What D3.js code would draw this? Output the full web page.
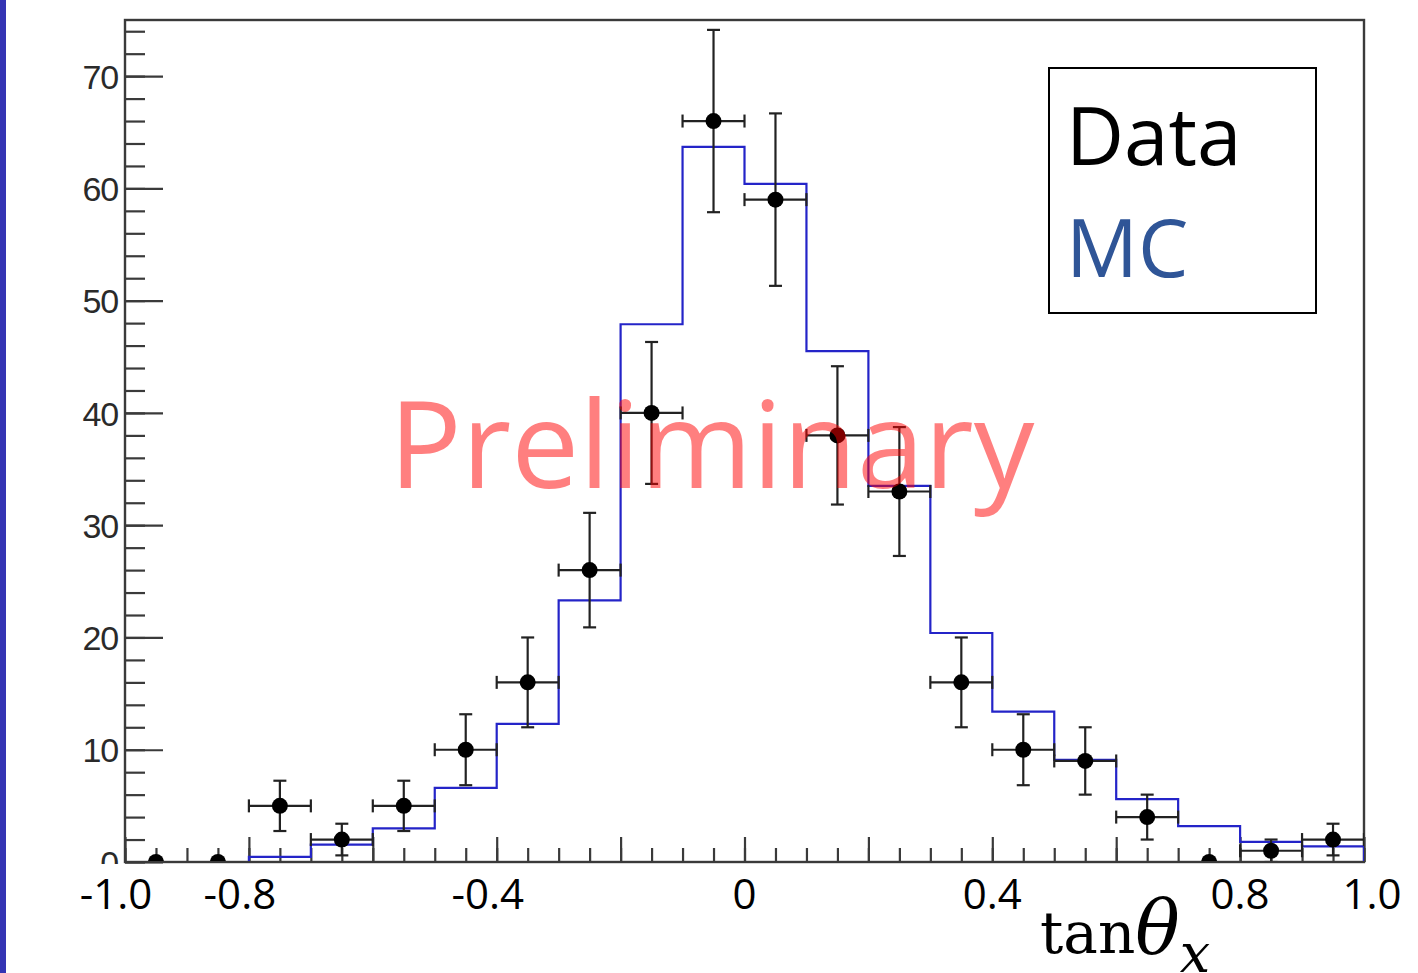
<!DOCTYPE html>
<html>
<head>
<meta charset="utf-8">
<script src="https://cdnjs.cloudflare.com/ajax/libs/d3/7.8.5/d3.min.js"></script>
<style>
  body { margin: 0; background: #fff; overflow: hidden; }
  svg { display: block; }
</style>
</head>
<body>
<svg id="canvas" width="1418" height="973"></svg>
<script>
// ************************************************************************************** //
// Data

var binCenters  = [-0.95, -0.85, -0.75, -0.65, -0.55, -0.45, -0.35, -0.25, -0.15, -0.05,
                    0.05,  0.15,  0.25,  0.35,  0.45,  0.55,  0.65,  0.75,  0.85,  0.95];
var dataCounts  = [0, 0, 5, 2, 5, 10, 16, 26, 40, 66, 59, 38, 33, 16, 10, 9, 4, 0, 1, 2];
var dataErrors  = [0, 0, 2.24, 1.41, 2.24, 3.16, 4, 5.1, 6.32, 8.12, 7.68, 6.16, 5.74, 4, 3.16, 3, 2, 0, 1, 1.41];
var mcCounts    = [0, 0, 0.45, 1.55, 3.0, 6.6, 12.3, 23.3, 47.9, 63.7, 60.4, 45.5, 33.5, 20.4, 13.4, 9.1, 5.6, 3.2, 1.8, 1.4];
var binHalfWidth = 0.05;

var xMajorTicks = [-1, -0.8, -0.6, -0.4, -0.2, 0, 0.2, 0.4, 0.6, 0.8, 1];
var xMinorTicks = d3.range(-1, 1.001, 0.05);
var xTickValues = [-1, -0.8, -0.4, 0, 0.4, 0.8, 1];
var xTickLabels = ['-1.0', '-0.8', '-0.4', '0', '0.4', '0.8', '1.0'];
var yMajorTicks = [0, 10, 20, 30, 40, 50, 60, 70];
var yMinorTicks = d3.range(0, 75, 2);
var legendLabels = ['Data', 'MC'];
var legendColors = ['#000', '#2f5597'];

// ************************************************************************************** //
// Layout

var svg = d3.select('#canvas');
var frame = { left: 125, right: 1364, top: 20, bottom: 862 };

var x = d3.scaleLinear().domain([-1, 1]).range([frame.left, frame.right]);
var y = d3.scaleLinear().domain([0, 75]).range([frame.bottom, frame.top]);

svg.append('clipPath').attr('id', 'frameClip')
  .append('rect')
  .attr('x', frame.left).attr('y', frame.top)
  .attr('width', frame.right - frame.left).attr('height', frame.bottom - frame.top - 1);

// ************************************************************************************** //
// Axes

var yMinor = d3.axisLeft(y).tickValues(yMinorTicks).tickSize(-20).tickSizeOuter(0).tickFormat('');
var yMajor = d3.axisLeft(y).tickValues(yMajorTicks).tickSize(-38).tickSizeOuter(0).tickPadding(7);
var xMinor = d3.axisBottom(x).tickValues(xMinorTicks).tickSize(-14).tickSizeOuter(0).tickFormat('');
var xMajor = d3.axisBottom(x).tickValues(xMajorTicks).tickSize(-25).tickSizeOuter(0).tickFormat('');

var gy1 = svg.append('g').attr('transform', 'translate(' + frame.left + ',0)').call(yMinor);
var gy2 = svg.append('g').attr('transform', 'translate(' + frame.left + ',0)').call(yMajor);
var gx1 = svg.append('g').attr('transform', 'translate(0,' + frame.bottom + ')').call(xMinor);
var gx2 = svg.append('g').attr('transform', 'translate(0,' + frame.bottom + ')').call(xMajor);

[gy1, gy2, gx1, gx2].forEach(function(g){
  g.select('.domain').remove();
  g.selectAll('line').attr('stroke', '#3a3a3a').attr('stroke-width', 2.2);
});
gy2.selectAll('text')
  .attr('font-family', 'Liberation Sans, Arial, sans-serif')
  .attr('font-size', 34).attr('letter-spacing', -1.2)
  .attr('fill', '#2a2a2a').attr('dy', '0.36em');

// Frame
svg.append('rect')
  .attr('x', frame.left).attr('y', frame.top)
  .attr('width', frame.right - frame.left).attr('height', frame.bottom - frame.top)
  .attr('fill', 'none').attr('stroke', '#3a3a3a').attr('stroke-width', 2.4);

// ************************************************************************************** //
// MC histogram

var mcPoints = [{ x: -1, y: 0 }];
binCenters.forEach(function(c, i){
  mcPoints.push({ x: c - binHalfWidth, y: mcCounts[i] });
  mcPoints.push({ x: c + binHalfWidth, y: mcCounts[i] });
});
mcPoints.push({ x: 1, y: 0 });

var lineGen = d3.line().x(function(d){ return x(d.x); }).y(function(d){ return y(d.y); });

svg.append('g').attr('clip-path', 'url(#frameClip)')
  .append('path')
  .attr('d', lineGen(mcPoints))
  .attr('fill', 'none').attr('stroke', '#2424c8').attr('stroke-width', 2.2);

// ************************************************************************************** //
// Data points with error bars

var dataG = svg.append('g').attr('clip-path', 'url(#frameClip)');
var cap = 6.5;
binCenters.forEach(function(c, i){
  var n = dataCounts[i], e = dataErrors[i];
  var g = dataG.append('g').attr('stroke', '#222').attr('stroke-width', 2.2);
  if (n > 0) {
    var xl = x(c - binHalfWidth), xr = x(c + binHalfWidth), yc = y(n);
    var yt = y(n + e), yb = y(n - e), xc = x(c);
    g.append('line').attr('x1', xl).attr('x2', xr).attr('y1', yc).attr('y2', yc);
    g.append('line').attr('x1', xl).attr('x2', xl).attr('y1', yc - cap).attr('y2', yc + cap);
    g.append('line').attr('x1', xr).attr('x2', xr).attr('y1', yc - cap).attr('y2', yc + cap);
    g.append('line').attr('x1', xc).attr('x2', xc).attr('y1', yt).attr('y2', yb);
    g.append('line').attr('x1', xc - cap).attr('x2', xc + cap).attr('y1', yt).attr('y2', yt);
    g.append('line').attr('x1', xc - cap).attr('x2', xc + cap).attr('y1', yb).attr('y2', yb);
  }
  dataG.append('circle').attr('cx', x(c)).attr('cy', y(n)).attr('r', 8).attr('fill', '#000');
});

// ************************************************************************************** //
// Overlaid labels (white band under the axis, hand placed tick labels, title)

svg.append('rect').attr('x', 0).attr('y', frame.bottom + 2).attr('width', 1418).attr('height', 120).attr('fill', '#fff');

svg.append('g').selectAll('text')
  .data(xTickValues)
  .join('text')
  .attr('x', function(d){ return x(d); })
  .attr('dx', function(d){ return d < 0 ? -9 : (d === 1 ? 8 : 0); })
  .attr('y', 909)
  .attr('text-anchor', 'middle')
  .attr('font-family', 'Open Sans, sans-serif')
  .attr('font-size', 42)
  .attr('fill', '#000')
  .text(function(d, i){ return xTickLabels[i]; });

var xTitle = svg.append('text')
  .attr('x', 1040).attr('y', 953)
  .attr('font-family', 'DejaVu Serif, serif')
  .attr('fill', '#000');
xTitle.append('tspan').attr('font-size', 58).text('tan');
xTitle.append('tspan').attr('font-size', 74).attr('font-style', 'italic').text('θ');
xTitle.append('tspan').attr('font-size', 54).attr('font-style', 'italic').attr('dy', 19).text('x');

// Watermark
svg.append('text')
  .attr('x', 389).attr('y', 488)
  .attr('font-family', 'Open Sans, sans-serif')
  .attr('font-size', 121)
  .attr('fill', 'red').attr('fill-opacity', 0.5)
  .text('Preliminary');

// Legend
svg.append('rect')
  .attr('x', 1049).attr('y', 68).attr('width', 267).attr('height', 245)
  .attr('fill', '#fff').attr('stroke', '#000').attr('stroke-width', 2);
svg.append('g').selectAll('text')
  .data(legendLabels)
  .join('text')
  .attr('x', 1066)
  .attr('y', function(d, i){ return 165 + i * 112; })
  .attr('font-family', 'Open Sans, sans-serif')
  .attr('font-size', 80)
  .attr('fill', function(d, i){ return legendColors[i]; })
  .text(function(d){ return d; });

// Slide edge
svg.append('rect').attr('x', 0).attr('y', 0).attr('width', 6).attr('height', 973).attr('fill', '#3434b4');
</script>
</body>
</html>
